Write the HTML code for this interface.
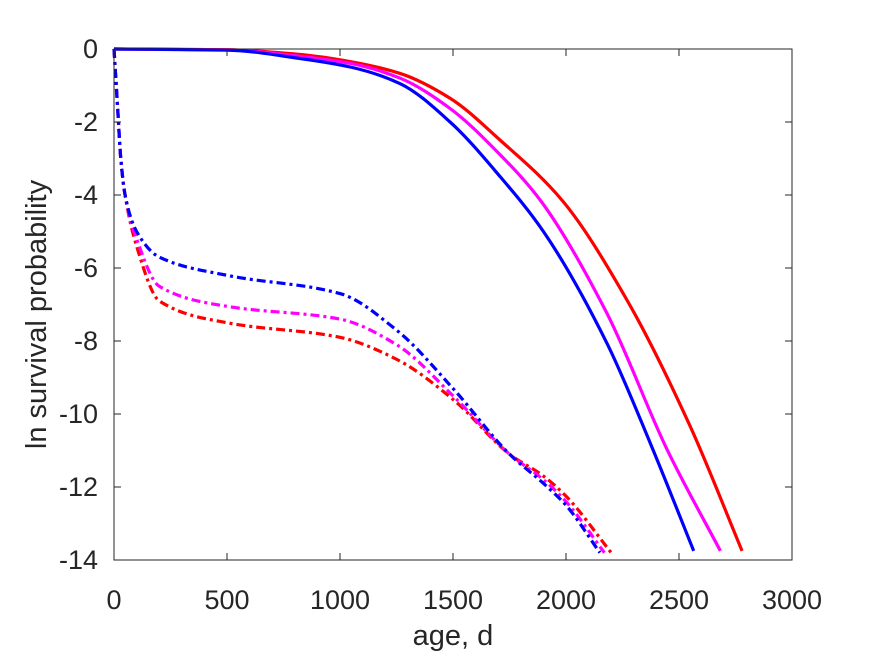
<!DOCTYPE html>
<html><head><meta charset="utf-8"><style>body{margin:0;background:#fff}svg{display:block}</style></head>
<body>
<svg id="chart" width="875" height="656" xmlns="http://www.w3.org/2000/svg" font-family="Liberation Sans, sans-serif">
<g id="plot"></g>
</svg>
<script>
const xTicks=[0,500,1000,1500,2000,2500,3000];
const yTicks=[0,-2,-4,-6,-8,-10,-12,-14];
const solidBlueX=[0,500,823,1050,1266,1487,1709,1900,2181,2373,2565];
const solidBlueY=[0,-0.03,-0.26,-0.5,-0.95,-2.0,-3.5,-5.0,-8.06,-10.8,-13.75];
const solidMagX=[0,500,823,1050,1266,1487,1709,1886,2181,2447,2683];
const solidMagY=[0,-0.02,-0.2,-0.4,-0.8,-1.63,-2.9,-4.14,-7.24,-10.97,-13.75];
const solidRedX=[0,500,823,1050,1266,1487,1709,1982,2269,2549,2779];
const solidRedY=[0,-0.02,-0.15,-0.35,-0.67,-1.35,-2.5,-4.14,-6.87,-10.33,-13.75];
const dashBlueX=[0,15,30,49,100,200,500,1000,1250,1500,1750,1900,2000,2150];
const dashBlueY=[0,-1.5,-3,-4,-5,-5.7,-6.2,-6.7,-7.7,-9.3,-11.1,-11.9,-12.5,-13.8];
const dashMagX=[0,15,30,49,100,200,500,1000,1250,1500,1750,1900,2000,2170];
const dashMagY=[0,-1.5,-3,-4,-5.2,-6.5,-7.05,-7.4,-8.1,-9.5,-11.1,-11.8,-12.4,-13.8];
const dashRedX=[0,15,30,49,100,200,500,1000,1250,1500,1750,1900,2000,2200];
const dashRedY=[0,-1.5,-3,-4,-5.4,-6.9,-7.5,-7.9,-8.5,-9.6,-11.1,-11.7,-12.25,-13.8];

const L=114,R=792,T=49,B=560;
const sx=v=>L+(v-0)/3000*(R-L);
const sy=v=>T+(0-v)/14*(B-T);
const NS='http://www.w3.org/2000/svg';
const svg=document.getElementById('chart');
function mk(t,a){const e=document.createElementNS(NS,t);for(const k in a)e.setAttribute(k,a[k]);return e;}
function pathFor(xs,ys){
  const X=xs.map(sx),Y=ys.map(sy),n=X.length;
  const d=[],m=new Array(n);
  for(let i=0;i<n-1;i++)d.push((Y[i+1]-Y[i])/(X[i+1]-X[i]));
  m[0]=d[0];m[n-1]=d[n-2];
  for(let i=1;i<n-1;i++){
    if(d[i-1]*d[i]<=0)m[i]=0;
    else{const h0=X[i]-X[i-1],h1=X[i+1]-X[i];const w1=2*h1+h0,w2=h1+2*h0;m[i]=(w1+w2)/(w1/d[i-1]+w2/d[i]);}
  }
  let s='M'+X[0]+','+Y[0];
  for(let i=0;i<n-1;i++){
    const h=X[i+1]-X[i];
    s+=` C${X[i]+h/3},${Y[i]+m[i]*h/3} ${X[i+1]-h/3},${Y[i+1]-m[i+1]*h/3} ${X[i+1]},${Y[i+1]}`;
  }
  return s;
}
const series=[
 [dashRedX,dashRedY,'#ff0000',true,'dashdot-red'],
 [dashMagX,dashMagY,'#ff00ff',true,'dashdot-magenta'],
 [dashBlueX,dashBlueY,'#0000ff',true,'dashdot-blue'],
 [solidRedX,solidRedY,'#ff0000',false,'solid-red'],
 [solidMagX,solidMagY,'#ff00ff',false,'solid-magenta'],
 [solidBlueX,solidBlueY,'#0000ff',false,'solid-blue'],
];
const plot=document.getElementById('plot');
series.forEach(s=>{
  const el=mk('path',{d:pathFor(s[0],s[1]),fill:'none',stroke:s[2],'stroke-width':3.2});
  if(s[3])el.setAttribute('stroke-dasharray','9,4,3,4');
  
  
  plot.appendChild(el);
});
const box=mk('rect',{x:L,y:T,width:R-L,height:B-T,fill:'none',stroke:'#262626','stroke-width':1});


svg.appendChild(box);
xTicks.forEach(v=>{
  const x=sx(v);
  const t=mk('line',{x1:x,x2:x,y1:B,y2:B-7,stroke:'#262626'});
  
  
  svg.appendChild(t);
  const t2=mk('line',{x1:x,x2:x,y1:T,y2:T+7,stroke:'#262626'});
  
  
  svg.appendChild(t2);
  const lb=mk('text',{x:x,y:B+49,'text-anchor':'middle','font-size':27,fill:'#262626'});
  lb.textContent=v;
  
  
  svg.appendChild(lb);
});
yTicks.forEach(v=>{
  const y=sy(v);
  const t=mk('line',{x1:L,x2:L+7,y1:y,y2:y,stroke:'#262626'});
  
  
  svg.appendChild(t);
  const t2=mk('line',{x1:R,x2:R-7,y1:y,y2:y,stroke:'#262626'});
  
  
  svg.appendChild(t2);
  const lb=mk('text',{x:L-16,y:y+9,'text-anchor':'end','font-size':27,fill:'#262626'});
  lb.textContent=v;
  
  
  svg.appendChild(lb);
});
const xt=mk('text',{x:(L+R)/2,y:645,'text-anchor':'middle','font-size':29,fill:'#262626'});
xt.textContent='age, d';


svg.appendChild(xt);
const yt=mk('text',{x:0,y:0,'text-anchor':'middle','font-size':29,fill:'#262626',transform:`translate(46,${(T+B)/2+10}) rotate(-90)`});
yt.textContent='ln survival probability';


svg.appendChild(yt);
</script>
</body></html>
